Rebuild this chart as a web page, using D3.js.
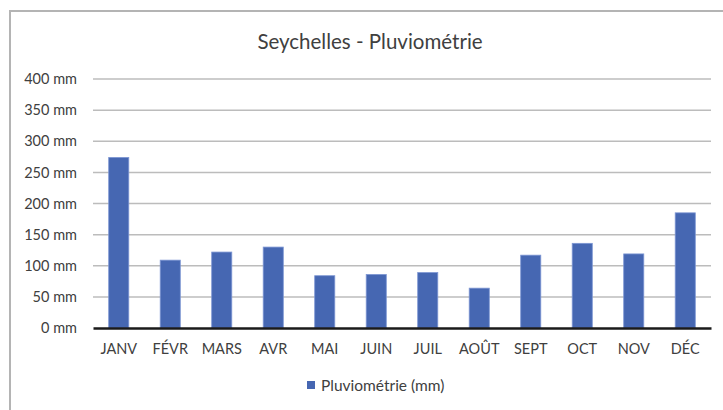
<!DOCTYPE html>
<html>
<head>
<meta charset="utf-8">
<script src="https://cdn.jsdelivr.net/npm/d3@7"></script>
<style>
  html, body { margin: 0; padding: 0; background: #fff; }
  svg { display: block; }
</style>
</head>
<body>
<div id="chart"></div>
<script>
// Seychelles - rainfall per month (mm)
const months = ['JANV', 'FÉVR', 'MARS', 'AVR', 'MAI', 'JUIN', 'JUIL', 'AOÛT', 'SEPT', 'OCT', 'NOV', 'DÉC']
const rainfall = [274, 109, 122, 130, 84, 86, 89, 64, 117, 136, 119, 185]
const yTicks = [0, 50, 100, 150, 200, 250, 300, 350, 400]
const seriesName = 'Pluviométrie (mm)'
const chartTitle = 'Seychelles - Pluviométrie'

const W = 723, H = 410
const font = 'Lato, "Open Sans", sans-serif'
const barColor = '#4667b2'

const svg = d3.select('#chart').append('svg')
  .attr('width', W)
  .attr('height', H)

// outer chart frame (runs off the right and bottom of the picture)
svg.append('rect')
  .attr('x', 10)
  .attr('y', 11)
  .attr('width', W + 20)
  .attr('height', H + 20)
  .attr('fill', 'none')
  .attr('stroke', '#b4b4b4')
  .attr('stroke-width', 2)

const margin = { left: 93, right: 12, top: 79, bottom: 82 }

const x = d3.scaleBand()
  .domain(months)
  .range([margin.left, W - margin.right])
  .paddingInner(0.61)
  .paddingOuter(0.305)

const y = d3.scaleLinear()
  .domain([0, 400])
  .range([H - margin.bottom, margin.top])

// horizontal gridlines
svg.append('g')
  .selectAll('line')
  .data(yTicks.filter(d => d > 0))
  .join('line')
  .attr('x1', margin.left)
  .attr('x2', W - margin.right)
  .attr('y1', d => y(d))
  .attr('y2', d => y(d))
  .attr('stroke', '#bcbcbc')
  .attr('stroke-width', 1.5)

// y axis labels
const yAxis = svg.append('g')
  .attr('transform', `translate(${margin.left - 13},0)`)
  .call(d3.axisLeft(y).tickValues(yTicks).tickSize(0).tickFormat(d => d + ' mm'))
yAxis.select('.domain').remove()
yAxis.selectAll('text')
  .attr('font-family', font)
  .attr('font-size', '14.5px')
  .attr('fill', '#404040')

// bars
svg.append('g')
  .selectAll('rect')
  .data(months)
  .join('rect')
  .attr('x', d => x(d))
  .attr('y', (d, i) => y(rainfall[i]))
  .attr('width', x.bandwidth())
  .attr('height', (d, i) => y(0) - y(rainfall[i]))
  .attr('fill', barColor)
  .attr('stroke', '#7d96d3')
  .attr('stroke-width', 0.8)

// x axis baseline + month labels
const xAxis = svg.append('g')
  .attr('transform', `translate(0,${y(0)})`)
  .call(d3.axisBottom(x).tickSize(0).tickPadding(16))
xAxis.select('.domain')
  .attr('stroke', '#1a1a1a')
  .attr('stroke-width', 2.5)
xAxis.selectAll('text')
  .attr('font-family', font)
  .attr('font-size', '14.5px')
  .attr('fill', '#404040')

// title
svg.append('text')
  .attr('x', 370)
  .attr('y', 49)
  .attr('text-anchor', 'middle')
  .attr('font-family', font)
  .attr('font-size', '20.5px')
  .attr('fill', '#404040')
  .text(chartTitle)

// legend
const legend = svg.append('g')
  .attr('transform', 'translate(307,381)')
legend.append('rect')
  .attr('x', 0)
  .attr('y', 0)
  .attr('width', 8)
  .attr('height', 8)
  .attr('fill', barColor)
legend.append('text')
  .attr('x', 14)
  .attr('y', 10)
  .attr('font-family', font)
  .attr('font-size', '15.5px')
  .attr('fill', '#404040')
  .text(seriesName)
</script>
</body>
</html>
